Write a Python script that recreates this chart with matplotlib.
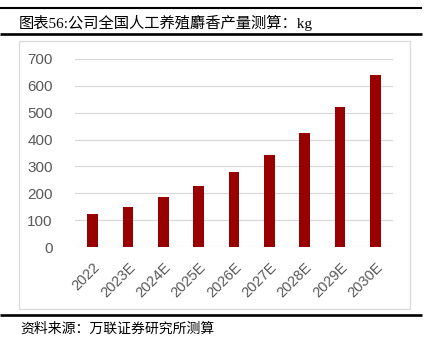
import matplotlib
matplotlib.use("Agg")
import matplotlib.pyplot as plt
from matplotlib.lines import Line2D
from matplotlib.patches import Rectangle

categories = ["2022", "2023E", "2024E", "2025E", "2026E", "2027E", "2028E", "2029E", "2030E"]
values = [125, 150, 185, 228, 280, 344, 424, 522, 641]
yticks = [0, 100, 200, 300, 400, 500, 600, 700]
title = "图表56:公司全国人工养殖麝香产量测算：kg"
source = "资料来源：万联证券研究所测算"

W, H = 426, 344
fig = plt.figure(figsize=(W / 100, H / 100), dpi=100)

def fx(px):
    return px / W

def fy(py):
    return 1 - py / H

# chart border box
fig.add_artist(Rectangle((fx(18.5), fy(309)), fx(410) - fx(18.5), fy(41) - fy(309),
                         transform=fig.transFigure, fill=False, edgecolor="#d9d9d9", lw=0.9))

# black rules
for y, lw in [(7.8, 1.5), (33.6, 1.9), (314.6, 1.9)]:
    fig.add_artist(Line2D([fx(0), fx(421.5)], [fy(y), fy(y)], transform=fig.transFigure,
                          color="black", lw=lw, solid_capstyle="butt"))

fig.text(fx(19), fy(22.5), title, fontsize=11, va="center", ha="left",
         family=["Liberation Serif", "Noto Sans CJK SC"], color="black")
fig.text(fx(20), fy(329), source, fontsize=10, va="center", ha="left", style="italic",
         family=["Noto Sans CJK SC", "DejaVu Sans"], color="black")

ax = fig.add_axes([fx(75), fy(247.3), fx(393) - fx(75), fy(58.7) - fy(247.3)])
x = list(range(len(categories)))
ax.bar(x, values, width=0.31, color="#990000", zorder=3)
ax.set_xlim(-0.5, len(categories) - 0.5)
ax.set_ylim(0, 700)
ax.set_yticks(yticks)
ax.set_yticklabels([str(v) for v in yticks])
ax.set_xticks(x)
ax.set_xticklabels(categories, rotation=45, ha="right", va="top", rotation_mode="anchor")
ax.grid(axis="y", color="#d9d9d9", lw=0.9, zorder=0)
ax.set_axisbelow(True)
for s in ax.spines.values():
    s.set_visible(False)
ax.tick_params(axis="y", length=0, pad=16, labelsize=11, labelcolor="#595959")
ax.tick_params(axis="x", length=0, pad=9, labelsize=10.5, labelcolor="#595959")
for lab in ax.get_xticklabels() + ax.get_yticklabels():
    lab.set_family(["Liberation Sans"])

fig.savefig("out.png", dpi=100)
